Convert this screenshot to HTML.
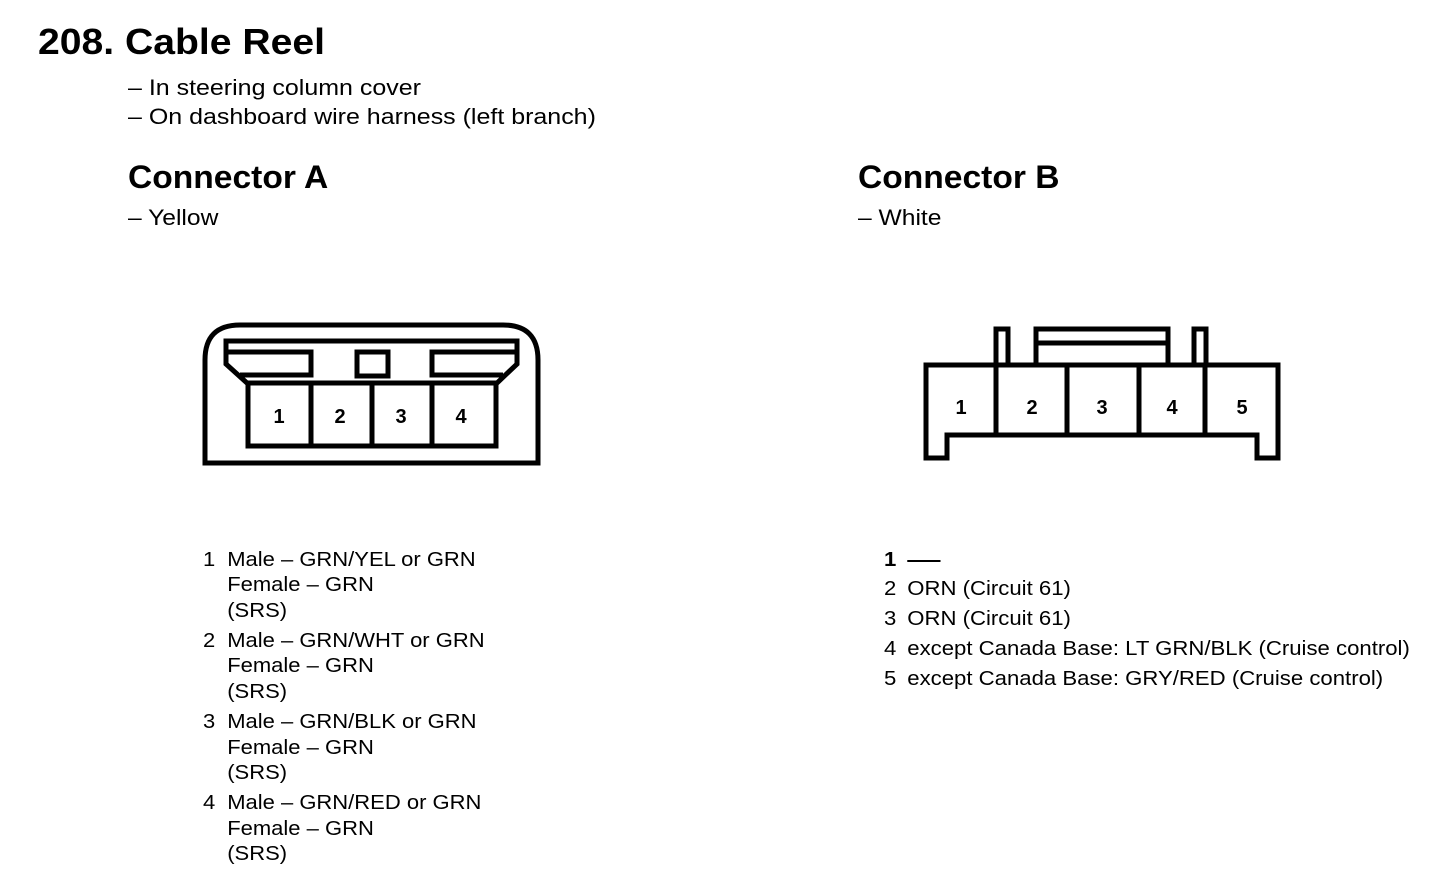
<!DOCTYPE html>
<html><head><meta charset="utf-8"><style>
html,body{margin:0;padding:0;background:#fff;}
svg{display:block;}
text{font-family:"Liberation Sans",Arial,sans-serif;fill:#000;}
.b{font-weight:bold;}
</style></head><body>
<svg width="1456" height="888" viewBox="0 0 1456 888" xmlns="http://www.w3.org/2000/svg">
<g transform="translate(38,0) scale(1.087,1) translate(-38,0)">
<text x="38" y="54" class="b" font-size="36">208. Cable Reel</text>
</g>
<g transform="translate(128,0) scale(1.136,1) translate(-128,0)">
<text x="128" y="95" font-size="22">– In steering column cover</text>
<text x="128" y="124" font-size="22">– On dashboard wire harness (left branch)</text>
</g>
<g transform="translate(128,0) scale(1.05,1) translate(-128,0)">
<text x="128" y="188" class="b" font-size="32">Connector A</text>
</g>
<g transform="translate(128,0) scale(1.12,1) translate(-128,0)">
<text x="128" y="225" font-size="22">– Yellow</text>
</g>
<g transform="translate(858,0) scale(1.05,1) translate(-858,0)">
<text x="858" y="188" class="b" font-size="32">Connector B</text>
</g>
<g transform="translate(858,0) scale(1.12,1) translate(-858,0)">
<text x="858" y="225" font-size="22">– White</text>
</g>

<!-- Connector A -->
<g fill="none" stroke="#000" stroke-width="5" stroke-linejoin="miter">
<path d="M205,463 L205,360 Q205,325 240,325 L503,325 Q538,325 538,360 L538,463 Z"/>
<path d="M226,341 L517,341 L517,364 L497,383 L247,383 L226,364 Z"/>
<path d="M226,352 L311,352 L311,375 L240,375"/>
<path d="M517,352 L432,352 L432,375 L503,375"/>
<rect x="357" y="352" width="31" height="24"/>
<rect x="248" y="383" width="248" height="63"/>
<line x1="311" y1="383" x2="311" y2="446"/>
<line x1="372" y1="383" x2="372" y2="446"/>
<line x1="432" y1="383" x2="432" y2="446"/>
</g>
<g font-size="20" text-anchor="middle">
<text x="279" y="423" class="b">1</text>
<text x="340" y="423" class="b">2</text>
<text x="401" y="423" class="b">3</text>
<text x="461" y="423" class="b">4</text>
</g>

<!-- Connector B -->
<g fill="none" stroke="#000" stroke-width="5" stroke-linejoin="miter">
<path d="M926,365 L1278,365 L1278,458 L1257,458 L1257,435 L947,435 L947,458 L926,458 Z"/>
<line x1="996" y1="365" x2="996" y2="435"/>
<line x1="1067" y1="365" x2="1067" y2="435"/>
<line x1="1139" y1="365" x2="1139" y2="435"/>
<line x1="1205" y1="365" x2="1205" y2="435"/>
<path d="M996,365 L996,329 L1008,329 L1008,365"/>
<path d="M1194,365 L1194,329 L1206,329 L1206,365"/>
<path d="M1036,365 L1036,329 L1168,329 L1168,365"/>
<line x1="1036" y1="343" x2="1168" y2="343"/>
</g>
<g font-size="20" text-anchor="middle">
<text x="961" y="414" class="b">1</text>
<text x="1032" y="414" class="b">2</text>
<text x="1102" y="414" class="b">3</text>
<text x="1172" y="414" class="b">4</text>
<text x="1242" y="414" class="b">5</text>
</g>

<!-- Pin list A -->
<g font-size="20" transform="translate(203,0) scale(1.10,1) translate(-203,0)">
<text x="203" y="566">1</text><text x="225" y="566">Male – GRN/YEL or GRN</text>
<text x="225" y="591">Female – GRN</text>
<text x="225" y="617">(SRS)</text>
<text x="203" y="647">2</text><text x="225" y="647">Male – GRN/WHT or GRN</text>
<text x="225" y="672">Female – GRN</text>
<text x="225" y="698">(SRS)</text>
<text x="203" y="728">3</text><text x="225" y="728">Male – GRN/BLK or GRN</text>
<text x="225" y="754">Female – GRN</text>
<text x="225" y="779">(SRS)</text>
<text x="203" y="809">4</text><text x="225" y="809">Male – GRN/RED or GRN</text>
<text x="225" y="835">Female – GRN</text>
<text x="225" y="860">(SRS)</text>
</g>

<!-- Pin list B -->
<g font-size="20" transform="translate(884,0) scale(1.108,1) translate(-884,0)">
<text x="884" y="566" class="b">1</text><line x1="905" y1="561" x2="935" y2="561" stroke="#000" stroke-width="2"/>
<text x="884" y="595">2</text><text x="905" y="595">ORN (Circuit 61)</text>
<text x="884" y="625">3</text><text x="905" y="625">ORN (Circuit 61)</text>
<text x="884" y="655">4</text><text x="905" y="655">except Canada Base: LT GRN/BLK (Cruise control)</text>
<text x="884" y="685">5</text><text x="905" y="685">except Canada Base: GRY/RED (Cruise control)</text>
</g>
</svg>
</body></html>
